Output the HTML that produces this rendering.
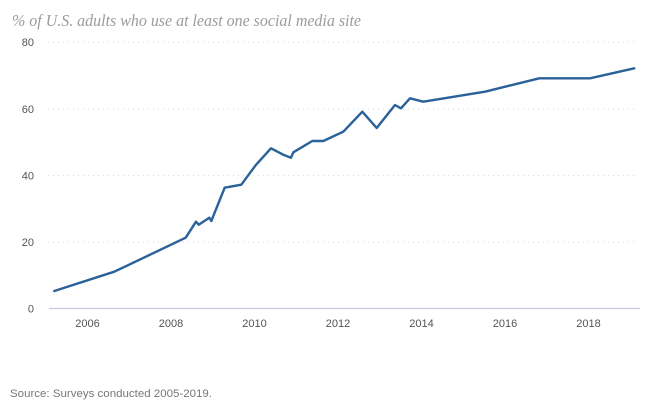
<!DOCTYPE html>
<html>
<head>
<meta charset="utf-8">
<style>
html,body{margin:0;padding:0;background:#fff;}
svg{display:block;}
</style>
</head>
<body>
<svg width="657" height="401" viewBox="0 0 657 401" xmlns="http://www.w3.org/2000/svg">
  <rect width="657" height="401" fill="#fff"/>
  <text x="12" y="26" font-family="Liberation Serif, serif" font-style="italic" font-size="16.5" fill="#9b9b9b" textLength="349" lengthAdjust="spacingAndGlyphs">% of U.S. adults who use at least one social media site</text>

  <g stroke="#d6d6d6" stroke-width="1" stroke-dasharray="1,4">
    <line x1="48" y1="42" x2="638" y2="42"/>
    <line x1="48" y1="109" x2="638" y2="109"/>
    <line x1="48" y1="175.5" x2="638" y2="175.5"/>
    <line x1="48" y1="242" x2="638" y2="242"/>
  </g>
  <line x1="49" y1="308.5" x2="640" y2="308.5" stroke="#c7cce6" stroke-width="1.2"/>

  <g font-family="Liberation Sans, sans-serif" font-size="11" fill="#555" text-anchor="end">
    <text x="34" y="46">80</text>
    <text x="34" y="113">60</text>
    <text x="34" y="179.5">40</text>
    <text x="34" y="246">20</text>
    <text x="34" y="312.5">0</text>
  </g>
  <g font-family="Liberation Sans, sans-serif" font-size="11" fill="#555" text-anchor="middle">
    <text x="87.5" y="327">2006</text>
    <text x="171" y="327">2008</text>
    <text x="254.5" y="327">2010</text>
    <text x="338" y="327">2012</text>
    <text x="421.5" y="327">2014</text>
    <text x="505" y="327">2016</text>
    <text x="588.5" y="327">2018</text>
  </g>

  <polyline fill="none" stroke="#2a6199" stroke-width="2.4" stroke-linejoin="round" stroke-linecap="round"
    points="54.3,291 114.3,271.7 185.7,237.7 196,221.7 198.7,224.7 209.3,217.7 211.3,221 224.7,187.7 241.3,184.7 256,164.8 271,148.3 283.3,154.7 291,157.7 293.3,152.3 312.3,141 323.3,141 343.3,131.7 362.3,111.7 376.7,128 395,105 401,108.3 410,98.3 423.3,101.7 485,91.7 539.3,78.3 590,78.3 634.3,68.3"/>

  <text x="10" y="397" font-family="Liberation Sans, sans-serif" font-size="11" fill="#777" textLength="202" lengthAdjust="spacingAndGlyphs">Source: Surveys conducted 2005-2019.</text>
</svg>
</body>
</html>
